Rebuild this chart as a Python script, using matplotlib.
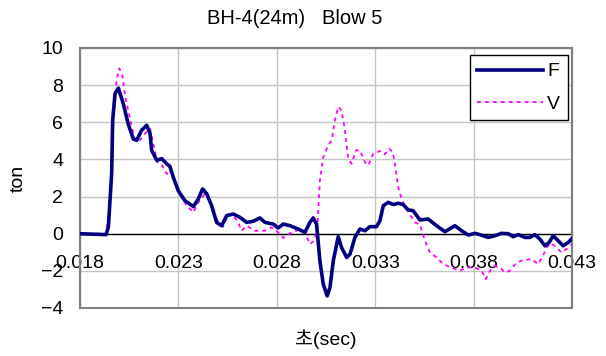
import matplotlib
matplotlib.use("Agg")
import matplotlib.pyplot as plt
import matplotlib.patches as patches
import numpy as np

plt.rcParams["font.family"] = ["Liberation Sans", "Noto Sans CJK KR", "DejaVu Sans"]

# time in ms, force/velocity in ton
f_time = [18.00, 19.32, 19.44, 19.61, 19.66, 19.78, 19.95, 20.20, 20.45, 20.71,
          20.88, 21.13, 21.39, 21.56, 21.64, 21.90, 22.15, 22.40, 22.57, 22.74,
          22.99, 23.33, 23.76, 24.01, 24.23, 24.44, 24.69, 24.94, 25.20, 25.45,
          25.79, 26.13, 26.47, 26.80, 27.14, 27.40, 27.82, 28.07, 28.33, 28.67,
          29.09, 29.43, 29.68, 29.85, 30.02, 30.19, 30.36, 30.56, 30.70, 30.87,
          31.12, 31.29, 31.55, 31.72, 31.97, 32.22, 32.48, 32.73, 33.07, 33.24,
          33.41, 33.66, 33.92, 34.17, 34.42, 34.68, 34.93, 35.27, 35.69, 36.12,
          36.54, 37.05, 37.39, 37.73, 38.07, 38.32, 38.74, 39.08, 39.42, 39.76,
          40.01, 40.27, 40.61, 40.86, 41.11, 41.37, 41.62, 41.84, 42.04, 42.30,
          42.55, 42.81, 43.03]
f_vals = [0, -0.05, 0.34, 3.26, 6.1, 7.55, 7.84, 7.0, 5.9, 5.1,
          5.03, 5.57, 5.84, 5.39, 4.49, 3.95, 4.04, 3.77, 3.62, 3.04,
          2.32, 1.78, 1.46, 1.87, 2.41, 2.15, 1.51, 0.61, 0.43, 0.97,
          1.06, 0.88, 0.61, 0.67, 0.85, 0.61, 0.52, 0.31, 0.52, 0.43,
          0.25, 0.07, 0.61, 0.85, 0.52, -1.46, -2.72, -3.35, -2.9, -1.46,
          -0.16, -0.74, -1.28, -1.1, -0.2, 0.25, 0.16, 0.38, 0.38, 0.7,
          1.51, 1.69, 1.57, 1.64, 1.57, 1.28, 1.24, 0.74, 0.79, 0.43,
          0.11, 0.43, 0.16, -0.07, 0.02, -0.05, -0.2, -0.11, 0.02, 0,
          -0.16, -0.05, -0.2, -0.2, -0.05, -0.29, -0.65, -0.47, -0.11, -0.38,
          -0.65, -0.47, -0.23]

v_time = [18.00, 19.32, 19.49, 19.61, 19.69, 19.86, 20.00, 20.17, 20.29, 20.45,
          20.63, 20.79, 21.05, 21.30, 21.56, 21.72, 21.93, 22.15, 22.40, 22.66,
          22.88, 23.17, 23.42, 23.76, 24.01, 24.35, 24.60, 24.81, 25.03, 25.28,
          25.53, 25.79, 26.04, 26.21, 26.47, 26.89, 27.40, 27.74, 28.07, 28.33,
          28.67, 29.09, 29.43, 29.68, 29.89, 30.05, 30.19, 30.36, 30.61, 30.79,
          30.95, 31.12, 31.29, 31.46, 31.63, 31.80, 32.02, 32.22, 32.48, 32.65,
          32.90, 33.24, 33.49, 33.71, 33.89, 34.00, 34.17, 34.34, 34.59, 34.85,
          35.02, 35.27, 35.53, 35.78, 36.12, 36.46, 36.88, 37.30, 37.64, 38.07,
          38.41, 38.62, 38.83, 39.08, 39.34, 39.59, 39.84, 40.18, 40.52, 40.95,
          41.28, 41.53, 41.70, 41.96, 42.21, 42.47, 42.72, 42.98]
v_vals = [0, 0, 1.42, 3.23, 5.93, 8.27, 8.9, 8.45, 7.37, 6.65,
          5.75, 5.03, 5.03, 5.39, 5.66, 4.85, 3.85, 3.73, 3.23, 3.31,
          2.69, 1.96, 1.51, 1.15, 1.69, 2.15, 1.78, 1.06, 0.61, 0.38,
          1.06, 0.97, 0.61, 0.16, 0.43, 0.16, 0.16, 0.34, 0.07, -0.23,
          0.02, 0.2, 0.07, -0.56, -0.38, 0.16, 2.86, 4.12, 4.76, 5.03,
          6.11, 6.83, 6.65, 5.57, 4.04, 3.77, 4.49, 4.49, 3.85, 3.68,
          4.31, 4.45, 4.27, 4.58, 4.39, 3.77, 2.5, 1.87, 1.33, 0.88,
          0.61, 0.49, -0.38, -1.01, -1.28, -1.64, -1.82, -2.0, -1.82, -1.82,
          -2.0, -2.45, -2.0, -1.73, -1.82, -2.09, -2.0, -1.55, -1.42, -1.37,
          -1.64, -1.19, -0.74, -0.52, -0.74, -1.01, -0.83, -0.59]

x_ticks = [0.018, 0.023, 0.028, 0.033, 0.038, 0.043]
y_ticks = [-4, -2, 0, 2, 4, 6, 8, 10]

fig = plt.figure(figsize=(6.06, 3.56), dpi=100)
ax = fig.add_axes([80 / 606, 1 - 308 / 356, 492 / 606, 260 / 356])

ax.plot(np.array(f_time) / 1000, f_vals, color="#000080", lw=2.6, label="F",
        solid_joinstyle="round", zorder=4)
ax.plot(np.array(v_time) / 1000, v_vals, color="#FF00FF", lw=1.3,
        linestyle=(0, (2.2, 2.2)), label="V", zorder=3)

ax.set_xlim(0.018, 0.043)
ax.set_ylim(-4, 10)
ax.set_xticks(x_ticks)
ax.set_xticklabels([f"{t:.3f}" for t in x_ticks])
ax.set_yticks(y_ticks)
ax.grid(True, color="#C4C4C4", lw=1)
ax.set_axisbelow(True)

# x axis crosses at y=0 like the excel chart
ax.spines["bottom"].set_position(("data", 0))
ax.spines["bottom"].set_color("black")
ax.spines["bottom"].set_linewidth(1)
ax.spines["bottom"].set_zorder(2)
for s in ["left", "right", "top"]:
    ax.spines[s].set_color("#808080")
    ax.spines[s].set_linewidth(1.5)
ax.add_patch(patches.Rectangle((0, 0), 1, 1, transform=ax.transAxes, fill=False,
                               edgecolor="#808080", lw=1.5, zorder=1, clip_on=False))

ax.tick_params(axis="x", length=0, pad=15, labelsize=14)
ax.tick_params(axis="y", length=0, pad=12, labelsize=14)

leg = ax.legend(loc="upper right", bbox_to_anchor=(0.992, 0.973), fontsize=14,
                frameon=True, fancybox=False, framealpha=1, edgecolor="black",
                handlelength=3.4, handletextpad=0.2, borderpad=0.4,
                labelspacing=0.75, borderaxespad=0)
leg.get_frame().set_linewidth(1)

fig.text(295 / 606, 1 - 18.5 / 356, "BH-4(24m)   Blow 5", ha="center", va="center",
         fontsize=14.5)
fig.text(18 / 606, 0.5, "ton", rotation=90, ha="center", va="center", fontsize=14)
fig.text(326 / 606, 1 - 339 / 356, "초(sec)", ha="center", va="center", fontsize=14)

fig.savefig("out.png", dpi=100)
